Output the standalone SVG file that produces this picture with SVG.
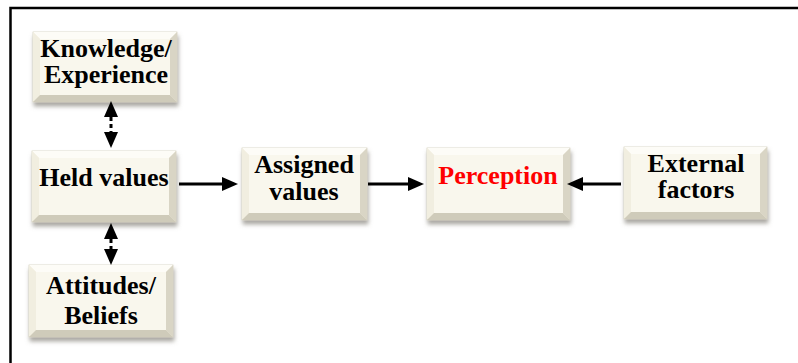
<svg xmlns="http://www.w3.org/2000/svg" width="798" height="363" viewBox="0 0 798 363">
  <defs>
    <filter id="sh" x="-10%" y="-10%" width="125%" height="140%">
      <feDropShadow dx="1" dy="4" stdDeviation="2.2" flood-color="#7a776e" flood-opacity="0.65"/>
    </filter>
    <marker id="ah" markerUnits="userSpaceOnUse" markerWidth="16" markerHeight="14" refX="0" refY="7" orient="auto-start-reverse" viewBox="0 0 16 14">
      <path d="M0,0 L16,7 L0,14 Z" fill="#000"/>
    </marker>
    <style>
      .box { fill: #f3f0e2; stroke: #d6d2c2; stroke-width: 0.8; filter: url(#sh); }
      .bt { fill: #fdfcf7; }
      .bl { fill: #f1eee0; }
      .br { fill: #d9d5c5; }
      .bb { fill: #cfcbba; }
      .face { fill: #f9f7ed; }
      text { font-family: "Liberation Serif", "Times New Roman", serif; font-weight: bold; font-size: 26px; text-anchor: middle; fill: #000; }
      .red { fill: #ff0000; }
      .conn line { stroke: #000; stroke-width: 3; fill: none; }
      .conn .dash { stroke-dasharray: 4 3; }
    </style>
  </defs>

  <rect width="798" height="363" fill="#fff"/>
  <path d="M10.5,363 V8 H798" fill="none" stroke="#000" stroke-width="2.5"/>

  <g id="node-knowledge">
    <rect class="box" x="33" y="32" width="144" height="70"/>
    <path class="bt" d="M33,32 H177 L170,39 H40 Z"/>
    <path class="bl" d="M33,32 L40,39 V95 L33,102 Z"/>
    <path class="br" d="M177,32 V102 L170,95 V39 Z"/>
    <path class="bb" d="M33,102 H177 L170,95 H40 Z"/>
    <rect class="face" x="40" y="39" width="130" height="56"/>
    <text x="106" y="57">Knowledge/</text>
    <text x="106" y="83">Experience</text>
  </g>

  <g id="node-held">
    <rect class="box" x="32" y="151" width="144" height="71"/>
    <path class="bt" d="M32,151 H176 L169,158 H39 Z"/>
    <path class="bl" d="M32,151 L39,158 V215 L32,222 Z"/>
    <path class="br" d="M176,151 V222 L169,215 V158 Z"/>
    <path class="bb" d="M32,222 H176 L169,215 H39 Z"/>
    <rect class="face" x="39" y="158" width="130" height="57"/>
    <text x="104" y="186">Held values</text>
  </g>

  <g id="node-attitudes">
    <rect class="box" x="29" y="265" width="144" height="72"/>
    <path class="bt" d="M29,265 H173 L166,272 H36 Z"/>
    <path class="bl" d="M29,265 L36,272 V330 L29,337 Z"/>
    <path class="br" d="M173,265 V337 L166,330 V272 Z"/>
    <path class="bb" d="M29,337 H173 L166,330 H36 Z"/>
    <rect class="face" x="36" y="272" width="130" height="58"/>
    <text x="101" y="294">Attitudes/</text>
    <text x="101" y="324">Beliefs</text>
  </g>

  <g id="node-assigned">
    <rect class="box" x="242" y="148" width="125" height="72"/>
    <path class="bt" d="M242,148 H367 L360,155 H249 Z"/>
    <path class="bl" d="M242,148 L249,155 V213 L242,220 Z"/>
    <path class="br" d="M367,148 V220 L360,213 V155 Z"/>
    <path class="bb" d="M242,220 H367 L360,213 H249 Z"/>
    <rect class="face" x="249" y="155" width="111" height="58"/>
    <text x="304" y="173">Assigned</text>
    <text x="304" y="200">values</text>
  </g>

  <g id="node-perception">
    <rect class="box" x="427" y="148" width="143" height="72"/>
    <path class="bt" d="M427,148 H570 L563,155 H434 Z"/>
    <path class="bl" d="M427,148 L434,155 V213 L427,220 Z"/>
    <path class="br" d="M570,148 V220 L563,213 V155 Z"/>
    <path class="bb" d="M427,220 H570 L563,213 H434 Z"/>
    <rect class="face" x="434" y="155" width="129" height="58"/>
    <text class="red" x="498" y="184">Perception</text>
  </g>

  <g id="node-external">
    <rect class="box" x="624" y="147" width="143" height="72"/>
    <path class="bt" d="M624,147 H767 L760,154 H631 Z"/>
    <path class="bl" d="M624,147 L631,154 V212 L624,219 Z"/>
    <path class="br" d="M767,147 V219 L760,212 V154 Z"/>
    <path class="bb" d="M624,219 H767 L760,212 H631 Z"/>
    <rect class="face" x="631" y="154" width="129" height="58"/>
    <text x="696" y="172">External</text>
    <text x="696" y="198">factors</text>
  </g>

  <g id="connectors" class="conn">
    <line x1="179" y1="184" x2="222" y2="184" marker-end="url(#ah)"/>
    <line x1="368" y1="184" x2="408" y2="184" marker-end="url(#ah)"/>
    <line x1="621" y1="184" x2="583" y2="184" marker-end="url(#ah)"/>
    <line class="dash" x1="111" y1="117" x2="111" y2="132" marker-start="url(#ah)" marker-end="url(#ah)"/>
    <line class="dash" x1="111" y1="239" x2="111" y2="249" marker-start="url(#ah)" marker-end="url(#ah)"/>
  </g>
</svg>
